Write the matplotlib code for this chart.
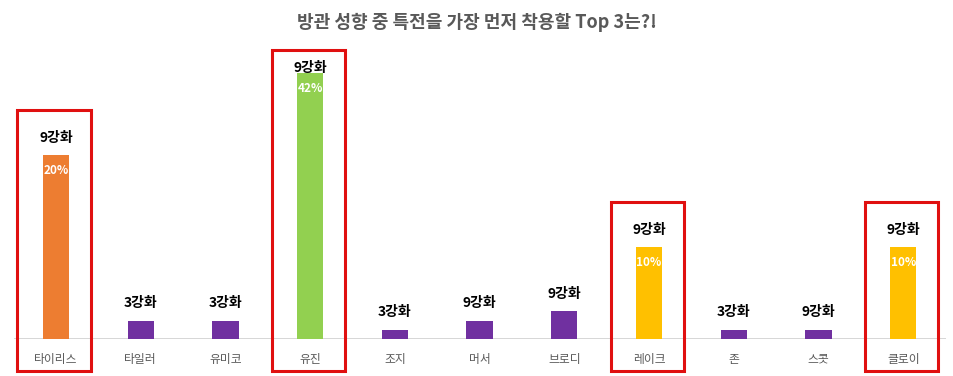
import matplotlib
matplotlib.use('Agg')
import matplotlib.pyplot as plt
from matplotlib.patches import Rectangle

plt.rcParams['font.family'] = ['Noto Sans CJK KR', 'DejaVu Sans']

title = '방관 성향 중 특전을 가장 먼저 착용할 Top 3는?!'
names = ['타이리스', '타일러', '유미코', '유진', '조지', '머서', '브로디', '레이크', '존', '스콧', '클로이']
values = [20, 2, 2, 42, 1, 2, 3, 10, 1, 1, 10]
grades = ['9강화', '3강화', '3강화', '9강화', '3강화', '9강화', '9강화', '9강화', '3강화', '9강화', '9강화']
top3 = ['타이리스', '유진', '레이크', '클로이']
colors = ['#ED7D31', '#7030A0', '#7030A0', '#92D050', '#7030A0', '#7030A0',
          '#7030A0', '#FFC000', '#7030A0', '#7030A0', '#FFC000']

ymax = 28.9

fig = plt.figure(figsize=(9.54, 3.76), dpi=100)
ax = fig.add_axes([13.6 / 954, 37 / 376, 932 / 954, 266 / 376])

x = list(range(len(names)))
ax.bar(x, values, width=0.31, color=colors, zorder=2)
ax.set_xlim(-0.5, len(names) - 0.5)
ax.set_ylim(0, ymax)
ax.axhline(0, color='#d0d0d0', lw=1.2, zorder=1)

for s in ax.spines.values():
    s.set_visible(False)
ax.set_yticks([])
ax.set_xticks(x)
ax.set_xticklabels(names, fontsize=8.5, color='#595959')
ax.tick_params(axis='x', length=0, pad=10)

for i, (v, g) in enumerate(zip(values, grades)):
    h = min(v, ymax)
    clipped = v > ymax
    ax.annotate(g, (i, h), xytext=(0, 3.6 if clipped else 12.5), textcoords='offset points',
                ha='center', va='center', fontsize=10, fontweight='bold', color='black',
                annotation_clip=False, zorder=4)
    if names[i] in top3:
        ax.annotate(f'{v}%', (i, h), xytext=(0, -11), textcoords='offset points',
                    ha='center', va='center', fontsize=8.5, fontweight='bold', color='white',
                    zorder=4)
        top = ymax + 2.5 if clipped else h + 4.9
        ax.add_patch(Rectangle((i - 0.455, -3.5), 0.87, top + 3.5, fill=False,
                               edgecolor='#E01010', lw=2.2, clip_on=False, zorder=5))

fig.text(0.5, 1 - 22 / 376, title, ha='center', va='center', fontsize=13,
         fontweight='bold', color='#595959')

fig.savefig('out.png', dpi=100)
